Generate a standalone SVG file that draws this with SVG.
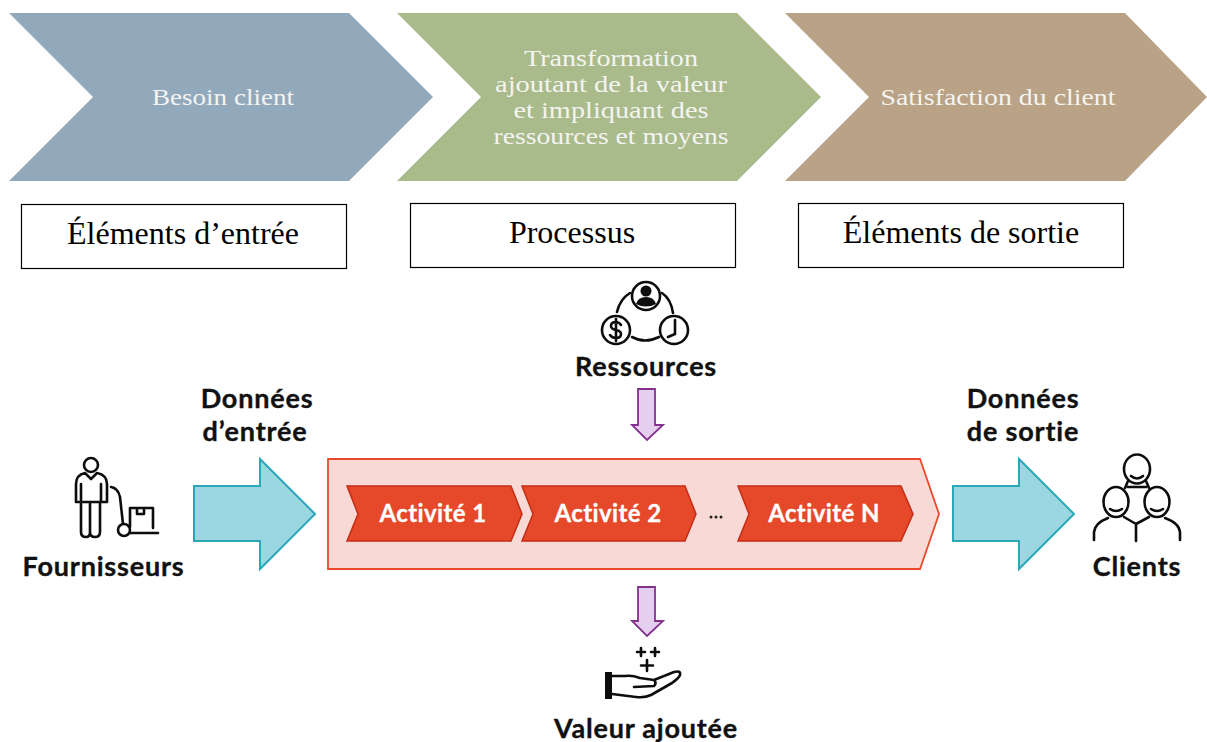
<svg xmlns="http://www.w3.org/2000/svg" width="1207" height="742" viewBox="0 0 1207 742">
<defs>
<filter id="soft" x="-10%" y="-10%" width="120%" height="120%"><feGaussianBlur stdDeviation="0.6"/></filter>
</defs>
<style>
text{text-anchor:middle}
.top{font-family:"Liberation Serif","Times New Roman",serif;font-size:22.5px;fill:#f4f4f0}
.box{fill:#fff;stroke:#000;stroke-width:1.2}
.lab{font-family:"Liberation Serif","Times New Roman",serif;font-size:32px;fill:#000}
.b{font-family:Lato,"Open Sans",sans-serif;font-weight:700;font-size:27px;letter-spacing:.8px;fill:#111;stroke:#111;stroke-width:.35}
.act{fill:#e5492a;stroke:#c42c14;stroke-width:1.5}
.actt{font-family:Lato,"Open Sans",sans-serif;font-weight:700;font-size:24px;letter-spacing:.4px;fill:#fff;stroke:#fff;stroke-width:.3}
.teal{fill:#9ad7e1;stroke:#2aa8b8;stroke-width:2}
.pur{fill:#e5cfee;stroke:#84308f;stroke-width:1.8}
.ic{fill:none;stroke:#111;stroke-width:2.6;stroke-linecap:round;stroke-linejoin:round}
</style>

<g id="chevron-besoin"><polygon points="9,13 349,13 433,97 349,181 9,181 93,97" fill="#92a9bc"/><text class="top" x="223" y="105" textLength="142" lengthAdjust="spacingAndGlyphs">Besoin client</text></g>
<g id="chevron-transformation"><polygon points="397,13 737,13 821,97 737,181 397,181 481,97" fill="#a9ba8b"/>
<text class="top" x="611" y="66" textLength="174" lengthAdjust="spacingAndGlyphs">Transformation</text>
<text class="top" x="611" y="92" textLength="232" lengthAdjust="spacingAndGlyphs">ajoutant de la valeur</text>
<text class="top" x="611" y="118" textLength="195" lengthAdjust="spacingAndGlyphs">et impliquant des</text>
<text class="top" x="611" y="144" textLength="235" lengthAdjust="spacingAndGlyphs">ressources et moyens</text></g>
<g id="chevron-satisfaction"><polygon points="785,13 1125,13 1207,97 1125,181 785,181 869,97" fill="#b9a285"/><text class="top" x="998" y="105" textLength="235" lengthAdjust="spacingAndGlyphs">Satisfaction du client</text></g>

<g id="box-entree"><rect class="box" x="21.500" y="204.500" width="325" height="64"/><text class="lab" x="183" y="244">Éléments d’entrée</text></g>
<g id="box-processus"><rect class="box" x="410.500" y="203.500" width="325" height="64"/><text class="lab" x="572" y="243">Processus</text></g>
<g id="box-sortie"><rect class="box" x="798.500" y="203.500" width="325" height="64"/><text class="lab" x="961" y="243">Éléments de sortie</text></g>

<g id="connectors">
<polygon class="teal" points="194,486 260,486 260,459 315,514 260,569 260,541 194,541"/>
<polygon class="teal" points="953,486 1019,486 1019,459 1074,514 1019,569 1019,541 953,541"/>
<polygon class="pur" points="638,389 655,389 655,425 663,425 647,440 632,425 638,425"/>
<polygon class="pur" points="638,587 655,587 655,621 663,621 647,636 632,621 638,621"/>
</g>

<g id="process">
<polygon points="328,459 920,459 939,514 920,569 328,569" fill="#f9d9d5" stroke="#ea4a2c" stroke-width="1.800"/>
<g id="activite-1"><polygon class="act" points="347,486 511,486 522,514 511,541 347,541 358,514"/><text class="actt" x="433" y="522">Activité 1</text></g>
<g id="activite-2"><polygon class="act" points="522,486 685,486 696,514 685,541 522,541 533,514"/><text class="actt" x="608" y="522">Activité 2</text></g>
<g id="points"><circle cx="711" cy="517" r="1.500" fill="#222"/><circle cx="716" cy="517" r="1.500" fill="#222"/><circle cx="721" cy="517" r="1.500" fill="#222"/></g>
<g id="activite-n"><polygon class="act" points="738,486 901,486 913,514 901,541 738,541 749,514"/><text class="actt" x="824" y="522">Activité N</text></g>
</g>

<g id="fournisseurs">
<g filter="url(#soft)">
<circle class="ic" cx="91" cy="465" r="7"/>
<path class="ic" d="M76,502V484Q76,475 85,473L91,479L97,473Q107,475 107,484V502H101V484M101,502H81V484M81,502H76M81,502V532Q81,537 86,537Q90,537 90,532V503M90,503V532Q90,537 95,537Q100,537 100,532V502"/>
<path class="ic" d="M111,487Q118,488 120,497L123,524"/>
<circle class="ic" cx="124" cy="530" r="6"/>
<path class="ic" d="M130,533H158M130,527V508H153V528M137,508V514H144V508"/>
</g>
<text class="b" x="103.500" y="576">Fournisseurs</text>
</g>

<g id="donnees-entree"><text class="b" x="257" y="408">Données</text><text class="b" x="255" y="441">d’entrée</text></g>
<g id="donnees-sortie"><text class="b" x="1023" y="408">Données</text><text class="b" x="1023" y="441">de sortie</text></g>

<g id="ressources">
<g filter="url(#soft)">
<path class="ic" d="M617,312Q620,299 630,293M662,293Q671,299 673,313M632,337Q645,344 659,337"/>
<circle class="ic" cx="646" cy="296" r="14"/>
<circle cx="646" cy="291" r="5.500" fill="#111"/><path d="M636,304Q638,297 646,297Q654,297 656,304Q646,309 636,304Z" fill="#111"/>
<circle class="ic" cx="616" cy="330" r="14"/>
<path class="ic" d="M621,325Q619,322 616,322Q611,322 611,326Q611,329 616,330Q621,331 621,334Q621,338 616,338Q612,338 610,335M616,319V341"/>
<circle class="ic" cx="674" cy="330" r="14" stroke-width="3"/>
<path class="ic" d="M675,320V334L668,337" stroke-width="1.800"/>
</g>
<text class="b" x="646" y="376">Ressources</text>
</g>

<g id="valeur-ajoutee">
<g filter="url(#soft)">
<path class="ic" d="M641,648V656M637,652H645M655,648V656M651,652H659M647,660V671M641,665.500H653" stroke-width="2.800"/>
<rect x="605" y="672" width="7" height="27" fill="#111"/>
<path class="ic" d="M612,676H625Q632,675 640,678L654,680Q657,683 654,686L634,687M654,680L674,672Q681,670 680,675Q679,678 672,683L651,695Q645,698 636,697L612,694"/>
</g>
<text class="b" x="646" y="738">Valeur ajoutée</text>
</g>

<g id="clients">
<g filter="url(#soft)">
<ellipse class="ic" cx="1137" cy="469" rx="13" ry="14.500"/>
<ellipse class="ic" cx="1116" cy="502" rx="12.500" ry="15"/>
<ellipse class="ic" cx="1157" cy="502" rx="12.500" ry="15"/>
<path class="ic" d="M1131,476Q1137,481 1143,476M1110,509Q1116,513 1122,509M1151,509Q1157,513 1163,509M1128,481L1125,488M1146,481L1149,488M1128,487H1146"/>
<path class="ic" d="M1094,540V532Q1095,523 1108,518M1124,517L1136,524L1149,517M1165,518Q1179,523 1180,532V540M1136,524V541"/>
</g>
<text class="b" x="1137" y="576">Clients</text>
</g>
</svg>
